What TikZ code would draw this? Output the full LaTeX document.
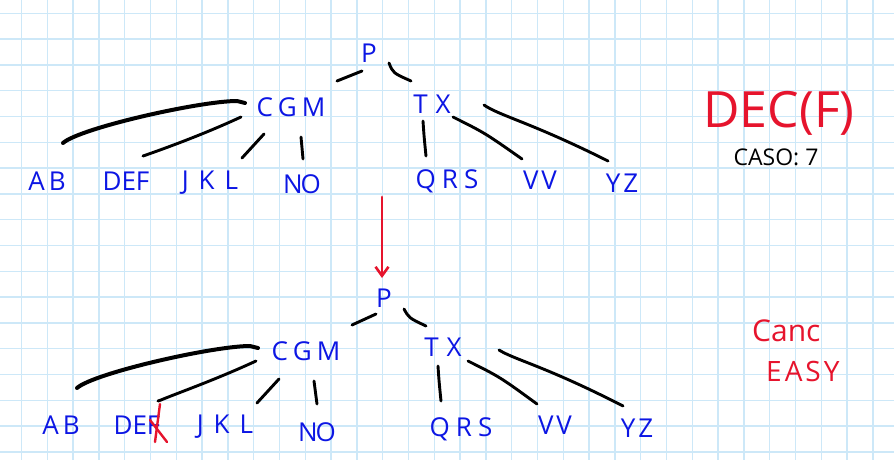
\documentclass[tikz,border=0pt]{standalone}
\usepackage{fontspec}
\newfontfamily\hand{Open Sans}
\usetikzlibrary{calc,arrows.meta}
\definecolor{hblue}{RGB}{12,22,228}
\definecolor{hred}{RGB}{230,20,45}
\definecolor{gridblue}{RGB}{205,232,248}
\tikzset{
  lbl/.style={font=\hand\fontsize{26}{26}\selectfont, text=hblue, inner sep=0pt, text depth=0pt, anchor=center},
  note/.style={font=\hand\fontsize{24}{24}\selectfont, inner sep=0pt, text depth=0pt, anchor=center},
  edge/.style={draw=black, line width=2.9pt, line cap=round, line join=round},
  thickedge/.style={draw=black, line width=4pt, line cap=round, line join=round},
  redstroke/.style={draw=hred, line width=2.4pt, line cap=round},
  redarrow/.style={draw=hred, line width=2.8pt, line cap=round, -{Straight Barb[length=9pt,width=13pt,line width=2.6pt]}}
}
\begin{document}
\begin{tikzpicture}[x=1pt,y=-1pt]
\useasboundingbox (0,0) rectangle (894,460);
\fill[white] (0,0) rectangle (894,460);
% grid
\foreach \k in {0,...,33} {\draw[gridblue, line width=1.3pt] ({21.5+25.8*\k},0) -- ({21.5+25.8*\k},460);}
\foreach \k in {0,...,17} {\draw[gridblue, line width=1.3pt] (0,{13.3+25.8*\k}) -- (894,{13.3+25.8*\k});}

% ---------- top tree ----------
\node[lbl] (p1) at (369,53) {P};
\node[lbl] (cgm1) at (291,107) {C\kern5pt G\kern5pt M};
\node[lbl] (tx1) at (432,104) {T\kern8pt X};
\node[lbl] (ab1) at (47,181) {A\kern4pt B};
\node[lbl] (def1) at (126,181) {DEF};
\node[lbl] (jkl1) at (210,180) {J\kern10pt K\kern10pt L};
\node[lbl] (no1) at (302,184) {N\kern-2pt O};
\node[lbl] (qrs1) at (447,179) {Q\kern6pt R\kern6pt S};
\node[lbl] (vv1) at (540,180) {V\kern3pt V};
\node[lbl] (yz1) at (622,183) {Y\kern3pt Z};

\draw[edge] ($(p1)+(-7,18)$) -- ($(cgm1)+(46,-26)$);
\draw[edge] ($(p1)+(20,10)$) .. controls ($(p1)+(24,20)$) .. ($(tx1)+(-21,-23)$);
\draw[thickedge] ($(cgm1)+(-46,-4)$) -- ($(cgm1)+(-54,-6)$) .. controls (200,101) and (80,128) .. ($(ab1)+(16,-38)$);
\draw[edge] ($(cgm1)+(-50,10)$) .. controls (200,136) and (160,150) .. ($(def1)+(20,-26)$) -- ($(def1)+(17,-25)$);
\draw[edge] ($(cgm1)+(-27,27)$) -- ($(jkl1)+(32,-22)$);
\draw[edge] ($(cgm1)+(10,30)$) -- ($(no1)+(1,-25)$);
\draw[edge] ($(tx1)+(-9,17)$) .. controls ($(tx1)+(-8,32)$) .. ($(qrs1)+(-21,-23)$);
\draw[edge] ($(tx1)+(21,13)$) .. controls (485,133) .. ($(vv1)+(-18,-21)$);
\draw[edge] ($(tx1)+(52,1)$) .. controls (500,116) and (530,122) .. ($(yz1)+(-14,-22)$);

% notes top
\node[note, text=hred, font=\hand\fontsize{50}{50}\selectfont] (dec) at (779,109) {DEC(F)};
\node[note, text=black, font=\hand\fontsize{23}{23}\selectfont] (caso) at (776,157) {CASO: 7};

% arrow between trees
\coordinate (arrtop) at (382,197);
\coordinate (arrbot) at (382,278);
\draw[redarrow] (arrtop) -- (arrbot);

% ---------- bottom tree ----------
\node[lbl] (p2) at (384,298) {P};
\node[lbl] (cgm2) at (306,351) {C\kern5pt G\kern5pt M};
\node[lbl] (tx2) at (443,347) {T\kern8pt X};
\node[lbl] (ab2) at (61,425) {A\kern4pt B};
\node[lbl] (def2) at (137,425) {DEF};
\node[lbl] (jkl2) at (225,424) {J\kern10pt K\kern10pt L};
\node[lbl] (no2) at (317,432) {N\kern-2pt O};
\node[lbl] (qrs2) at (461,427) {Q\kern6pt R\kern6pt S};
\node[lbl] (vv2) at (555,425) {V\kern3pt V};
\node[lbl] (yz2) at (637,428) {Y\kern3pt Z};

\draw[edge] ($(p2)+(-8,16)$) -- ($(cgm2)+(46,-26)$);
\draw[edge] ($(p2)+(20,11)$) .. controls ($(p2)+(25,20)$) .. ($(tx2)+(-17,-21)$);
\draw[thickedge] ($(cgm2)+(-48,-3)$) -- ($(cgm2)+(-56,-5)$) .. controls (213,346) and (94,373) .. ($(ab2)+(16,-37)$);
\draw[edge] ($(cgm2)+(-50,10)$) .. controls (215,380) and (175,394) .. ($(def2)+(24,-25)$) -- ($(def2)+(21,-24)$);
\draw[edge] ($(cgm2)+(-27,28)$) -- ($(jkl2)+(32,-21)$);
\draw[edge] ($(cgm2)+(8,30)$) -- ($(no2)+(0,-28)$);
\draw[edge] ($(tx2)+(-5,19)$) .. controls ($(tx2)+(-4,34)$) .. ($(qrs2)+(-20,-26)$);
\draw[edge] ($(tx2)+(25,14)$) .. controls (500,377) .. ($(vv2)+(-18,-21)$);
\draw[edge] ($(tx2)+(56,3)$) .. controls (515,360) and (545,366) .. ($(yz2)+(-14,-22)$);

% red cross over F
\draw[redstroke] ($(def2)+(23,-21)$) -- ($(def2)+(18,17)$);
\draw[redstroke] ($(def2)+(13,-5)$) -- ($(def2)+(30,17)$);

% notes bottom
\node[note, text=hred, font=\hand\fontsize{30}{30}\selectfont, anchor=west] (canc) at (752,331) {Canc};
\node[note, text=hred, font=\hand\fontsize{28}{28}\selectfont, anchor=west] (easy) at (766,371) {E\kern3pt A\kern3pt S\kern3pt Y};
\end{tikzpicture}
\end{document}
